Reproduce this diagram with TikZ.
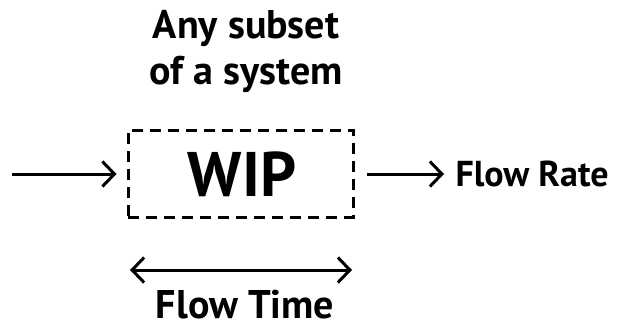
\documentclass[tikz,border=0pt]{standalone}
\usepackage{fontspec}
\setmainfont{PT Sans}
\usetikzlibrary{arrows.meta,positioning}
\tikzset{
  sysbox/.style={draw, dashed, line width=3pt, dash pattern=on 11pt off 7pt,
                 minimum width=225pt, minimum height=87pt, inner sep=0pt},
  bigtext/.style={font=\bfseries\fontsize{63}{65}\selectfont},
  labeltext/.style={font=\bfseries\fontsize{40}{46}\selectfont, align=center, inner sep=1pt},
  ratetext/.style={font=\bfseries\fontsize{36}{40}\selectfont},
  flowarrow/.style={-{Straight Barb[length=12pt, width=25pt, line width=3pt]}, line width=3pt},
  spanarrow/.style={{Straight Barb[length=12pt, width=25pt, line width=3pt]}-{Straight Barb[length=12pt, width=25pt, line width=3pt]}, line width=3pt}
}
\begin{document}
\begin{tikzpicture}[x=1pt, y=1pt]
  \useasboundingbox (0,0) rectangle (623,330);
  % the system under study
  \node[sysbox] (wip) at (240.5,156.5) {};
  \node[bigtext] (wiptext) at (242,156) {WIP};
  \node[labeltext] (subset) at (246,278) {Any subset\\of a system};
  % flows in and out
  \coordinate (inflow) at (12,156);
  \node[ratetext, anchor=west] (rate) at (452,156) {Flow Rate};
  \draw[flowarrow] (inflow) -- ([xshift=-10pt]wip.west |- inflow);
  \draw[flowarrow] ([xshift=12pt]wip.east |- inflow) -- ([xshift=-8pt]rate.west);
  % time spent inside
  \coordinate (tleft) at (130,60);
  \coordinate (tright) at (352,60);
  \draw[spanarrow] (tleft) -- (tright);
  \node[labeltext] (time) at (245,25) {Flow Time};
\end{tikzpicture}
\end{document}
